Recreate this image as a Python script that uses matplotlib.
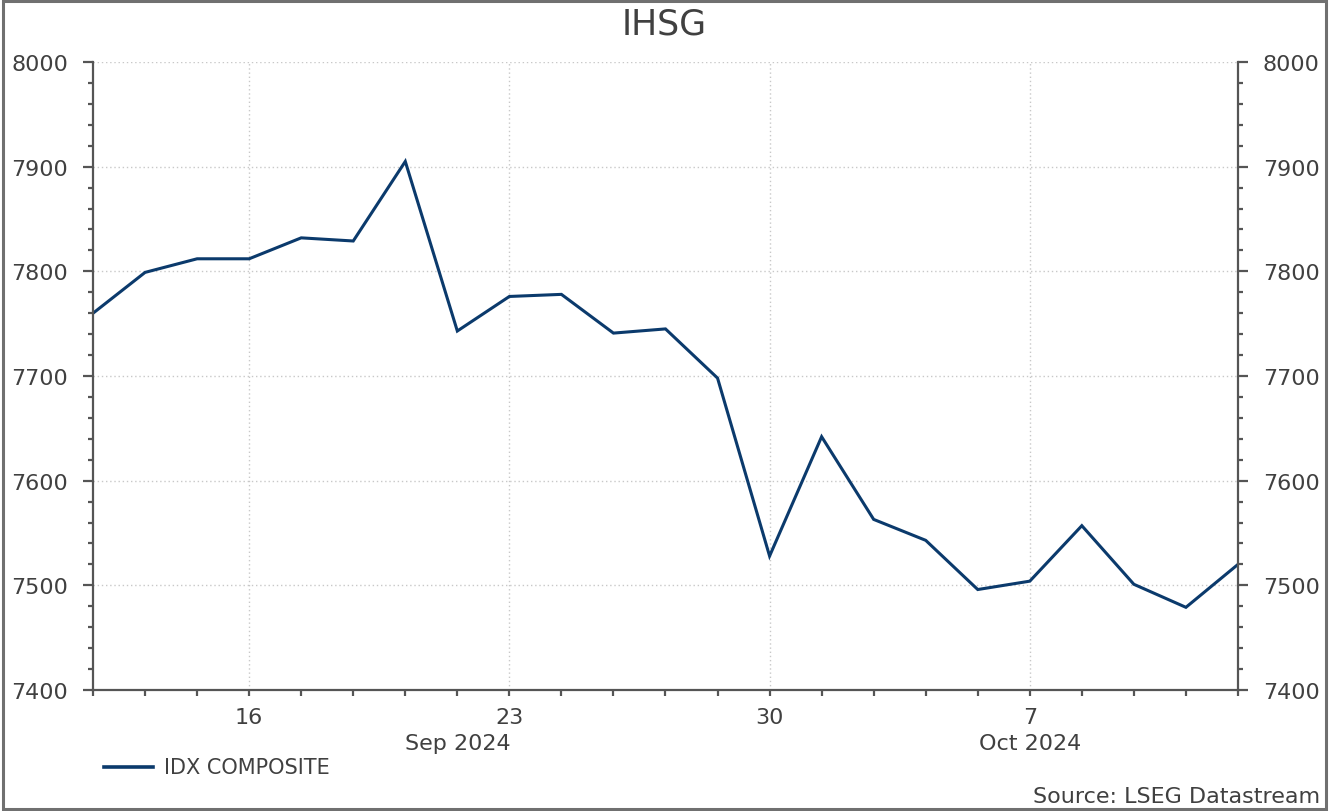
import numpy as np
import matplotlib.pyplot as plt
from matplotlib.ticker import MultipleLocator, FixedLocator
from matplotlib.lines import Line2D
import matplotlib.transforms as mtransforms

plt.rcParams['font.family'] = ['DejaVu Sans']

# trading days (business days only, weekends skipped on the axis)
dates = ["2024-09-11", "2024-09-12", "2024-09-13", "2024-09-16", "2024-09-17",
         "2024-09-18", "2024-09-19", "2024-09-20", "2024-09-23", "2024-09-24",
         "2024-09-25", "2024-09-26", "2024-09-27", "2024-09-30", "2024-10-01",
         "2024-10-02", "2024-10-03", "2024-10-04", "2024-10-07", "2024-10-08",
         "2024-10-09", "2024-10-10", "2024-10-11"]
ihsg = [7760, 7799, 7812, 7812, 7832, 7829, 7905, 7743, 7776, 7778,
        7741, 7745, 7698, 7528, 7642, 7563, 7543, 7496, 7504, 7557,
        7501, 7479, 7520]

tick_dates = ["2024-09-16", "2024-09-23", "2024-09-30", "2024-10-07"]
tick_labels = ["16", "23", "30", "7"]
month_labels = ["Sep 2024", "Oct 2024"]
month_anchor = ["2024-09-20", "2024-10-07"]

series_name = "IDX COMPOSITE"
source_text = "Source: LSEG Datastream"

txt = "#404040"
navy = "#0b3a6c"
axc = "#555555"

x = np.arange(len(dates))
tick_pos = [dates.index(d) for d in tick_dates]

fig = plt.figure(figsize=(13.29, 8.12), dpi=100)
ax = fig.add_axes([0.070, 0.149, 0.8615, 0.7734])

ax.plot(x, ihsg, color=navy, lw=2.2, solid_joinstyle="miter")

ax.set_xlim(x[0], x[-1])
ax.set_ylim(7400, 8000)

ax.xaxis.set_major_locator(FixedLocator(tick_pos))
ax.set_xticklabels(tick_labels)
ax.xaxis.set_minor_locator(FixedLocator(x))
ax.yaxis.set_major_locator(MultipleLocator(100))
ax.yaxis.set_minor_locator(MultipleLocator(20))

ax.grid(True, which="major", color="#c8c8c8", linestyle=(0, (1, 2)), lw=1.0)

ax.spines["top"].set_visible(False)
for s in ["left", "right", "bottom"]:
    ax.spines[s].set_color(axc)
    ax.spines[s].set_linewidth(1.6)

ax.tick_params(axis="y", which="major", direction="out", length=7, width=1.6,
               color=axc, labelsize=16, labelcolor=txt, pad=11,
               left=True, right=True, labelleft=True, labelright=True)
ax.tick_params(axis="y", which="minor", direction="out", length=3.5, width=1.6,
               color=axc, left=True, right=True)
ax.tick_params(axis="x", which="both", direction="out", length=4, width=1.6,
               color=axc, labelsize=16, labelcolor=txt, pad=8)

# month labels below day labels
trans = mtransforms.blended_transform_factory(ax.transData, ax.transAxes)
for lab, d in zip(month_labels, month_anchor):
    ax.text(dates.index(d), -0.085, lab, transform=trans, ha="center", va="center",
            fontsize=16, color=txt)

fig.text(0.5, 0.970, "IHSG", ha="center", va="center", fontsize=25, color=txt)

# legend
fig.add_artist(Line2D([104 / 1329, 153 / 1329], [1 - 768 / 812, 1 - 768 / 812],
                      color=navy, lw=2.6, transform=fig.transFigure))
fig.text(164 / 1329, 1 - 768 / 812, series_name, ha="left", va="center",
         fontsize=15, color=txt)

fig.text(1320 / 1329, 1 - 797 / 812, source_text, ha="right", va="center",
         fontsize=16, color=txt)

# frame around the whole figure
fig.add_artist(plt.Rectangle((0.002, 0.003), 0.996, 0.994, fill=False,
                             edgecolor="#707070", lw=2.2, transform=fig.transFigure))

fig.savefig("out.png", dpi=100)
